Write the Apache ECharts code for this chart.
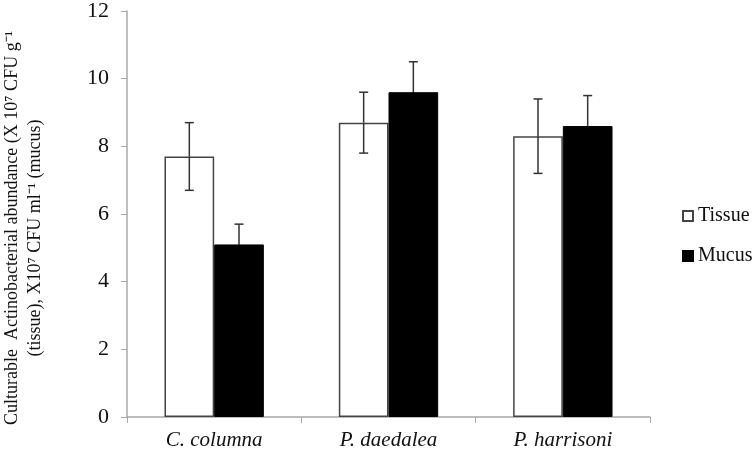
<!DOCTYPE html>
<html>
<head>
<meta charset="utf-8">
<script src="https://cdn.jsdelivr.net/npm/echarts@6/dist/echarts.min.js"></script>
<style>
  html, body { margin: 0; padding: 0; background: #fff; }
  #chart { width: 754px; height: 459px; }
</style>
</head>
<body>
<div id="chart"></div>
<script>
const categories = ["C. columna", "P. daedalea", "P. harrisoni"];
const tissue = [7.7, 8.7, 8.3];
const tissueErr = [1.0, 0.9, 1.1];
const mucus = [5.1, 9.6, 8.6];
const mucusErr = [0.6, 0.9, 0.9];
const yTicks = [0, 2, 4, 6, 8, 10, 12];

const serif = "'Liberation Serif', 'Times New Roman', serif";
const axisGrey = "#a8a8a8";
const catGap = 0.43;

const chart = echarts.init(document.getElementById("chart"), null, { renderer: "canvas" });

// side: -1 = left bar (tissue), +1 = right bar (mucus)
// lowerColor: the half inside the bar takes the bar's fill colour
function errorSeries(values, errs, side, lowerColor) {
  return {
    type: "custom",
    z: 10,
    silent: true,
    data: values.map((v, i) => [i, v, errs[i]]),
    encode: { x: 0, y: 1 },
    renderItem(params, api) {
      const idx = api.value(0);
      const val = api.value(1);
      const err = api.value(2);
      const band = api.size([1, 0])[0];
      const barW = band * (1 - catGap) / 2;
      const c = api.coord([idx, val]);
      const x = c[0] + side * barW / 2;
      const mid = c[1];
      const top = api.coord([idx, val + err])[1];
      const bot = api.coord([idx, val - err])[1];
      const cap = 4.5;
      const up = { stroke: "#333", lineWidth: 1.5 };
      const down = { stroke: lowerColor, lineWidth: 1.5 };
      return {
        type: "group",
        children: [
          { type: "line", shape: { x1: x, y1: top, x2: x, y2: mid }, style: up },
          { type: "line", shape: { x1: x, y1: mid, x2: x, y2: bot }, style: down },
          { type: "line", shape: { x1: x - cap, y1: top, x2: x + cap, y2: top }, style: up },
          { type: "line", shape: { x1: x - cap, y1: bot, x2: x + cap, y2: bot }, style: down }
        ]
      };
    }
  };
}

chart.setOption({
  animation: false,
  backgroundColor: "#fff",
  grid: { left: 127, right: 104, top: 11, bottom: 42 },
  legend: {
    data: ["Tissue", "Mucus"],
    orient: "vertical",
    left: 677,
    top: 201,
    itemWidth: 10,
    itemHeight: 10,
    itemGap: 20,
    icon: "rect",
    textStyle: { fontFamily: serif, fontSize: 20, color: "#111" }
  },
  xAxis: {
    type: "category",
    data: categories,
    axisLine: { lineStyle: { color: axisGrey, width: 1.5 } },
    axisTick: { show: true, length: 6, lineStyle: { color: axisGrey } },
    axisLabel: {
      fontFamily: serif,
      fontStyle: "italic",
      fontSize: 21,
      color: "#111",
      margin: 13
    }
  },
  yAxis: {
    type: "value",
    min: yTicks[0],
    max: yTicks[yTicks.length - 1],
    interval: 2,
    splitLine: { show: false },
    axisLine: { show: true, lineStyle: { color: axisGrey, width: 1.5 } },
    axisTick: { show: true, length: 6, lineStyle: { color: axisGrey } },
    axisLabel: { fontFamily: serif, fontSize: 22, color: "#111", margin: 18 }
  },
  graphic: [
    {
      type: "text",
      x: 12,
      y: 228,
      rotation: Math.PI / 2,
      style: {
        text: "Culturable  Actinobacterial abundance (X 10\u2077 CFU g\u207B\u00B9",
        fontFamily: serif,
        fontSize: 18,
        fill: "#111",
        align: "center",
        verticalAlign: "middle"
      }
    },
    {
      type: "text",
      x: 35,
      y: 238,
      rotation: Math.PI / 2,
      style: {
        text: "(tissue), X10\u2077 CFU ml\u207B\u00B9 (mucus)",
        fontFamily: serif,
        fontSize: 18,
        fill: "#111",
        align: "center",
        verticalAlign: "middle"
      }
    }
  ],
  series: [
    {
      name: "Tissue",
      type: "bar",
      data: tissue,
      barGap: "0%",
      barCategoryGap: catGap * 100 + "%",
      itemStyle: { color: "#fff", borderColor: "#444", borderWidth: 1.5 }
    },
    {
      name: "Mucus",
      type: "bar",
      data: mucus,
      itemStyle: { color: "#000", borderColor: "#000", borderWidth: 1 }
    },
    errorSeries(tissue, tissueErr, -1, "#333"),
    errorSeries(mucus, mucusErr, 1, "#000")
  ]
});
</script>
</body>
</html>
